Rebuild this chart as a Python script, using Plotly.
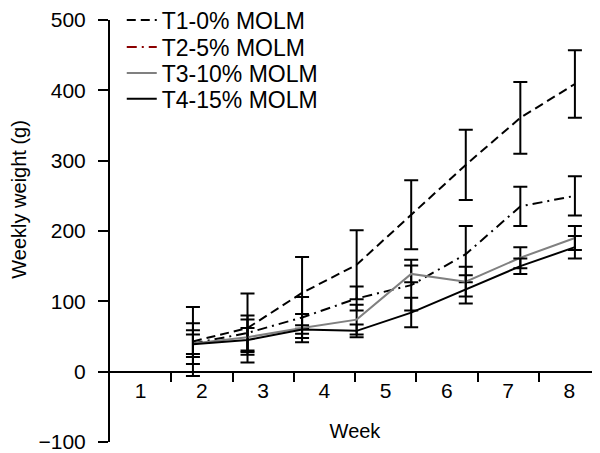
import plotly.graph_objects as go

weeks = [1, 2, 3, 4, 5, 6, 7, 8]
week_labels = ["1", "2", "3", "4", "5", "6", "7", "8"]

t1 = [43, 62, 112, 152, 223, 294, 361, 409]
t1_err = [49, 49, 51, 49, 49, 50, 51, 48]
t2 = [40, 55, 77, 104, 123, 167, 235, 250]
t2_err = [29, 25, 29, 17, 36, 40, 28, 28]
t3 = [40, 49, 62, 74, 139, 128, 162, 190]
t3_err = [19, 25, 20, 21, 12, 21, 15, 17]
t4 = [39, 45, 60, 58, 84, 117, 150, 177]
t4_err = [14, 17, 6, 9, 21, 20, 11, 16]

names = ["T1-0% MOLM", "T2-5% MOLM", "T3-10% MOLM", "T4-15% MOLM"]

FONT = "Liberation Sans, Arial, sans-serif"

fig = go.Figure()

def eb(arr):
    return dict(type="data", array=arr, color="black", thickness=2, width=7, visible=True)

fig.add_trace(go.Scatter(x=weeks, y=t1, mode="lines", name=names[0], legend="legend",
                         line=dict(color="black", width=2, dash="9px,5px"), error_y=eb(t1_err)))
fig.add_trace(go.Scatter(x=weeks, y=t2, mode="lines", name=names[1], showlegend=False,
                         line=dict(color="black", width=2, dash="10px,5px,2px,5px"), error_y=eb(t2_err)))
# legend-only entry (dark red swatch as in the reference) living on the labelled week axis
fig.add_trace(go.Scatter(x=[None], y=[None], mode="lines", name=names[1], legend="legend2",
                         xaxis="x2", line=dict(color="#8b0000", width=2, dash="10px,5px,2px,5px")))
fig.add_trace(go.Scatter(x=weeks, y=t3, mode="lines", name=names[2], legend="legend3",
                         line=dict(color="#808080", width=2), error_y=eb(t3_err)))
fig.add_trace(go.Scatter(x=weeks, y=t4, mode="lines", name=names[3], legend="legend4",
                         line=dict(color="black", width=2), error_y=eb(t4_err)))

def leg(yp):
    return dict(x=0.024, y=yp, xanchor="left", yanchor="middle", bgcolor="rgba(0,0,0,0)",
                font=dict(size=23), itemwidth=30)

# the page body adds an 8px offset, so the figure is 8px smaller than the window
fig.update_layout(
    width=592, height=445,
    margin=dict(l=102, r=0, t=12, b=11, autoexpand=False),
    plot_bgcolor="white", paper_bgcolor="white",
    font=dict(family=FONT, size=21, color="black"),
    showlegend=True,
    legend=leg(1.0), legend2=leg(0.936), legend3=leg(0.874), legend4=leg(0.813),
    xaxis=dict(range=[-0.52, 8.46], visible=False, anchor="y"),
    xaxis2=dict(overlaying="x", range=[0.5, 8.5], tickmode="array", tickvals=weeks, ticktext=week_labels,
                ticks="", showline=True, linecolor="black", linewidth=2, showgrid=False,
                zeroline=False, anchor="free", position=100 / 600, ticklabelstandoff=0,
                tickfont=dict(size=21),
                minor=dict(tickvals=[w + 0.5 for w in weeks], ticks="outside", ticklen=9,
                           tickwidth=2, tickcolor="black", showgrid=False),
                title=dict(text="Week", font=dict(size=20), standoff=22)),
    yaxis=dict(range=[-100, 500], tickmode="array", tickvals=[-100, 0, 100, 200, 300, 400, 500],
               ticks="outside", ticklen=10, tickwidth=2, tickcolor="black", ticklabelstandoff=8,
               ticklabeloverflow="allow", tickfont=dict(size=21),
               showline=True, linecolor="black", linewidth=2, showgrid=False,
               zeroline=True, zerolinecolor="black", zerolinewidth=2),
    annotations=[dict(text="Weekly weight (g)", textangle=-90, xref="paper", yref="y",
                      x=-0.185, y=245, showarrow=False, font=dict(size=20),
                      xanchor="center", yanchor="middle")],
)

fig.write_html("out.html")
